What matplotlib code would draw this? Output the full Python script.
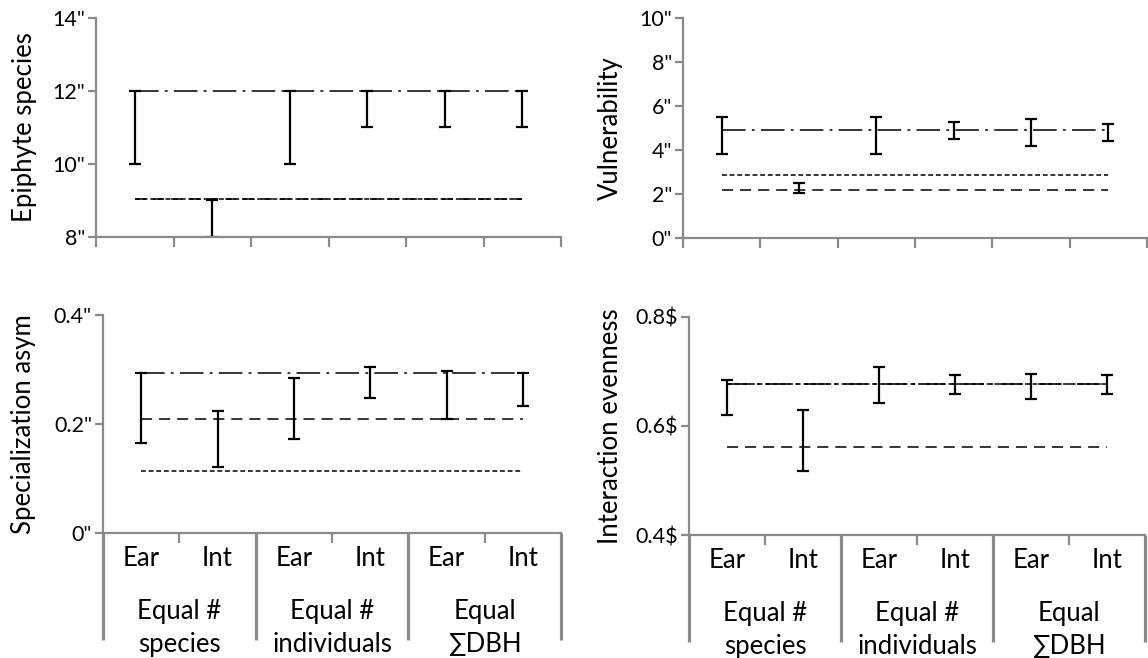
import matplotlib
matplotlib.use("Agg")
import matplotlib.pyplot as plt
import matplotlib.transforms as mtransforms
import numpy as np

plt.rcParams['font.family'] = ['Lato', 'DejaVu Sans']
plt.rcParams['lines.scale_dashes'] = False

# ---------------- data ----------------
sub_labels = ["Ear", "Int", "Ear", "Int", "Ear", "Int"]
group_labels = ["Equal #\nspecies", "Equal #\nindividuals", "Equal\n∑DBH"]

# Epiphyte species
epi_low = [10.0, 8.0, 10.0, 11.0, 11.0, 11.0]
epi_high = [12.0, 9.02, 12.0, 12.0, 12.0, 12.0]
epi_dashdot = 12.0
epi_dash = 9.03
epi_fine = 9.03
epi_ticks = [8, 10, 12, 14]
epi_ticklabels = ['8"', '10"', '12"', '14"']

# Vulnerability
vul_low = [3.82, 2.05, 3.82, 4.50, 4.20, 4.40]
vul_high = [5.49, 2.48, 5.49, 5.28, 5.41, 5.20]
vul_dashdot = 4.90
vul_dash = 2.20
vul_fine = 2.86
vul_ticks = [0, 2, 4, 6, 8, 10]
vul_ticklabels = ['0"', '2"', '4"', '6"', '8"', '10"']

# Specialization asymmetry
spec_low = [0.166, 0.122, 0.173, 0.247, 0.209, 0.233]
spec_high = [0.293, 0.224, 0.285, 0.304, 0.297, 0.293]
spec_dashdot = 0.293
spec_dash = 0.209
spec_fine = 0.113
spec_ticks = [0.0, 0.2, 0.4]
spec_ticklabels = ['0"', '0.2"', '0.4"']

# Interaction evenness
even_low = [0.621, 0.518, 0.642, 0.658, 0.650, 0.658]
even_high = [0.684, 0.630, 0.709, 0.693, 0.696, 0.693]
even_dashdot = 0.677
even_dash = 0.562
even_fine = 0.677
even_ticks = [0.4, 0.6, 0.8]
even_ticklabels = ['0.4$', '0.6$', '0.8$']

# ---------------- layout ----------------
W, H = 1148, 658
fig = plt.figure(figsize=(W / 100, H / 100), dpi=100)

def add_ax(x0, y0, x1, y1):
    return fig.add_axes([x0 / W, 1 - y1 / H, (x1 - x0) / W, (y1 - y0) / H])

GRAY = '#8a8a8a'
x_pos = np.arange(len(sub_labels))
TXT = 18.5

def draw_panel(ax, low, high, dd, ds, fn, ticks, ticklabels, ylabel, label_x, bottom):
    low = np.array(low); high = np.array(high)
    mid = (low + high) / 2
    err = (high - low) / 2
    ax.plot([x_pos[0], x_pos[-1]], [dd, dd], color='black', lw=1.1,
            linestyle=(0, (17, 4.5, 2, 4.5)))
    ax.plot([x_pos[0], x_pos[-1]], [ds, ds], color='black', lw=1.1,
            linestyle=(0, (8, 5)))
    ax.plot([x_pos[0], x_pos[-1]], [fn, fn], color='black', lw=1.1,
            linestyle=(0, (3.5, 2)))
    ax.errorbar(x_pos, mid, yerr=err, fmt='none', ecolor='black',
                elinewidth=1.6, capsize=4, capthick=1.6)
    ax.set_xlim(-0.5, 5.5)
    ax.set_ylim(ticks[0], ticks[-1])
    ax.set_yticks(ticks)
    ax.set_yticklabels(ticklabels)
    for s in ['top', 'right']:
        ax.spines[s].set_visible(False)
    for s in ['left', 'bottom']:
        ax.spines[s].set_color(GRAY)
        ax.spines[s].set_linewidth(1.6)
    ax.tick_params(axis='y', direction='out', length=6, width=1.6,
                   color=GRAY, labelsize=15.5, pad=2)
    if not bottom:
        ax.set_xticks(np.arange(-0.5, 6, 1.0))
        ax.set_xticklabels([])
        ax.tick_params(axis='x', direction='out', length=7.5, width=1.6, color=GRAY)
    else:
        ax.set_xticks([-0.5, 1.5, 3.5, 5.5])
        ax.set_xticklabels([])
        ax.set_xticks([0.5, 2.5, 4.5], minor=True)
        ax.tick_params(axis='x', which='major', direction='out', length=77,
                       width=2.3, color=GRAY)
        ax.tick_params(axis='x', which='minor', direction='out', length=7.5,
                       width=1.6, color=GRAY)
        trans = mtransforms.blended_transform_factory(ax.transData, ax.transAxes)
        for i, lab in enumerate(sub_labels):
            ax.text(x_pos[i], -0.119, lab, transform=trans, ha='center',
                    va='center', fontsize=TXT)
        for g, lab in enumerate(group_labels):
            ax.text((x_pos[2 * g] + x_pos[2 * g + 1]) / 2, -0.435, lab,
                    transform=trans, ha='center', va='center', fontsize=TXT,
                    linespacing=1.42)
    bb = ax.get_position()
    fig.text(label_x / W, (bb.y0 + bb.y1) / 2, ylabel, rotation=90,
             ha='center', va='center', fontsize=TXT)

ax1 = add_ax(96, 18, 561, 237)
draw_panel(ax1, epi_low, epi_high, epi_dashdot, epi_dash, epi_fine,
           epi_ticks, epi_ticklabels, "Epiphyte species", 25, False)
ax2 = add_ax(683, 18, 1147, 238)
draw_panel(ax2, vul_low, vul_high, vul_dashdot, vul_dash, vul_fine,
           vul_ticks, vul_ticklabels, "Vulnerability", 610, False)
ax3 = add_ax(103, 315, 561, 533)
draw_panel(ax3, spec_low, spec_high, spec_dashdot, spec_dash, spec_fine,
           spec_ticks, spec_ticklabels, "Specialization asym", 24, True)
ax4 = add_ax(689, 317, 1145, 535)
draw_panel(ax4, even_low, even_high, even_dashdot, even_dash, even_fine,
           even_ticks, even_ticklabels, "Interaction evenness", 610, True)

fig.savefig("out.png", dpi=100)
